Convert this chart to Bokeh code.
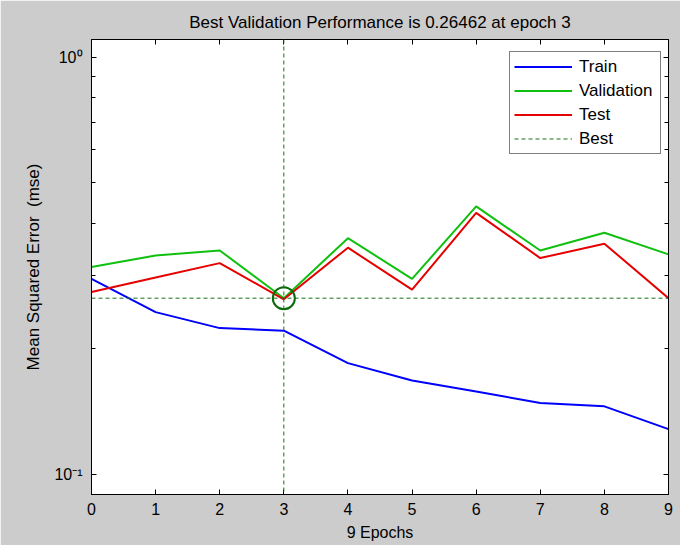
from bokeh.plotting import figure
from bokeh.models import (Range1d, LinearAxis, LogAxis, FixedTicker, Legend,
                          LegendItem, Span)
from bokeh.embed import file_html
from bokeh.resources import INLINE

# ---- data ----
epochs = [0, 1, 2, 3, 4, 5, 6, 7, 8, 9]
train = [0.2945, 0.2450, 0.2243, 0.2211, 0.1849, 0.1680, 0.1581, 0.1483, 0.1456, 0.1284]
validation = [0.3142, 0.3350, 0.3444, 0.26462, 0.3686, 0.2945, 0.4392, 0.3444, 0.3799, 0.3370]
test = [0.2737, 0.2967, 0.3211, 0.2630, 0.3497, 0.2773, 0.4238, 0.3302, 0.3575, 0.2647]
best_epoch = 3
best_perf = 0.26462

x_ticks = [0, 1, 2, 3, 4, 5, 6, 7, 8, 9]
y_major = [0.1, 1.0]
y_major_labels = {0.1: "10\u207b\u00b9", 1.0: "10\u2070"}
y_minor = [0.2, 0.3, 0.4, 0.5, 0.6, 0.7, 0.8, 0.9]
y_lo, y_hi = 0.0895, 1.104

title_text = "Best Validation Performance is 0.26462 at epoch 3"
x_label = "9 Epochs"
y_label = "Mean Squared Error \u00a0(mse)"

FONT = "Liberation Sans"
GREY = "#cccccc"

p = figure(width=680, height=545, y_axis_type="log",
           x_range=Range1d(epochs[0], epochs[-1]), y_range=Range1d(y_lo, y_hi),
           output_backend="svg", toolbar_location=None,
           min_border_left=91, min_border_right=12, min_border_top=39, min_border_bottom=51)

p.title.text = title_text
p.title.text_font = FONT
p.title.text_font_size = "17px"
p.title.text_font_style = "normal"
p.title.text_color = "black"
p.title.align = "center"
p.title.standoff = 16

p.background_fill_color = "white"
p.border_fill_color = GREY
p.outline_line_color = "black"
p.outline_line_width = 1
p.xgrid.visible = False
p.ygrid.visible = False

xt = FixedTicker(ticks=x_ticks)
yt = FixedTicker(ticks=y_major, minor_ticks=y_minor)


def style_axis(ax, show_labels):
    ax.axis_line_color = "black"
    ax.major_tick_in = 5
    ax.major_tick_out = 0
    ax.minor_tick_in = 4
    ax.minor_tick_out = 0
    ax.major_tick_line_color = "black"
    ax.minor_tick_line_color = "black"
    ax.major_label_text_font = FONT
    ax.major_label_text_color = "black"
    if show_labels:
        ax.major_label_text_font_size = "16px"
    else:
        ax.major_label_text_font_size = "0px"
        ax.major_label_standoff = 0
        ax.major_label_text_alpha = 0


xa = p.xaxis[0]
xa.ticker = xt
style_axis(xa, True)
xa.major_label_standoff = 8
xa.axis_label = x_label
xa.axis_label_text_font = FONT
xa.axis_label_text_font_size = "16px"
xa.axis_label_text_font_style = "normal"
xa.axis_label_text_color = "black"
xa.axis_label_standoff = 6

ya = p.yaxis[0]
ya.ticker = yt
style_axis(ya, True)
ya.major_label_overrides = y_major_labels
ya.major_label_standoff = 9
ya.axis_label = y_label
ya.axis_label_text_font = FONT
ya.axis_label_text_font_size = "17px"
ya.axis_label_text_font_style = "normal"
ya.axis_label_text_color = "black"
ya.axis_label_standoff = 8

top = LinearAxis(ticker=xt)
style_axis(top, False)
p.add_layout(top, "above")
right = LogAxis(ticker=yt)
style_axis(right, False)
p.add_layout(right, "right")

# ---- series ----
r_train = p.line(epochs, train, line_color="#0000ff", line_width=2)
r_val = p.line(epochs, validation, line_color="#10c010", line_width=2)
r_test = p.line(epochs, test, line_color="#e60000", line_width=2)

best_color = "#1a701a"
r_best = p.line([epochs[0], epochs[-1]], [best_perf, best_perf],
                line_color=best_color, line_width=1, line_dash="4 3")
p.add_layout(Span(location=best_epoch, dimension="height", line_color=best_color,
                  line_width=1, line_dash="4 3"))
p.scatter([best_epoch], [best_perf], marker="circle", size=22, fill_color=None,
          line_color="#0a6a0a", line_width=2)

legend = Legend(items=[LegendItem(label="Train", renderers=[r_train]),
                       LegendItem(label="Validation", renderers=[r_val]),
                       LegendItem(label="Test", renderers=[r_test]),
                       LegendItem(label="Best", renderers=[r_best])],
                location=(418, 340))
legend.label_text_font = FONT
legend.label_text_font_size = "17px"
legend.label_text_color = "black"
legend.glyph_width = 58
legend.glyph_height = 21
legend.label_height = 21
legend.label_width = 77
legend.label_standoff = 7
legend.spacing = 3
legend.padding = 4
legend.margin = 0
legend.border_line_color = "black"
legend.border_line_width = 1
legend.background_fill_color = "white"
legend.background_fill_alpha = 1
p.add_layout(legend, "center")

open("out.html", "w").write(file_html(p, INLINE))
